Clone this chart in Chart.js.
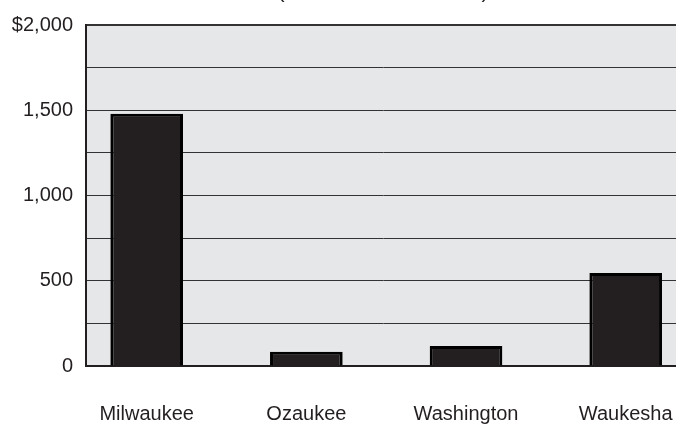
<!DOCTYPE html>
<html>
<head>
<meta charset="utf-8">
<script src="https://cdn.jsdelivr.net/npm/chart.js@4/dist/chart.umd.min.js"></script>
<style>
  html, body { margin: 0; padding: 0; background: #fff; overflow: hidden; }
  #wrap { width: 676px; height: 426px; overflow: hidden; }
  canvas { display: block; }
</style>
</head>
<body>
<div id="wrap"><canvas id="countyChart" width="680" height="426"></canvas></div>
<script>
// values (millions of dollars)
var counties = ['Milwaukee', 'Ozaukee', 'Washington', 'Waukesha'];
var amounts = [1480, 84, 117, 545];
var yTicks = [0, 500, 1000, 1500, 2000];
var titleText = '(In Millions of Dollars)';

var ink = '#231f20';

// light grey plot background + title that sits mostly above the frame
var plotBackground = {
    id: 'plotBackground',
    beforeDraw: function (chart) {
        var a = chart.chartArea;
        var ctx = chart.ctx;
        ctx.save();
        ctx.fillStyle = '#e6e7e8';
        ctx.fillRect(a.left, a.top, a.right - a.left, a.bottom - a.top);
        ctx.restore();
    },
    afterDraw: function (chart) {
        var ctx = chart.ctx;
        ctx.save();
        ctx.font = '22px "Liberation Sans", Arial, sans-serif';
        ctx.fillStyle = ink;
        ctx.textAlign = 'center';
        ctx.textBaseline = 'alphabetic';
        ctx.fillText(titleText, 383, -3);
        ctx.restore();
    }
};

var points = amounts.map(function (v, i) { return { x: i, y: v }; });

new Chart(document.getElementById('countyChart'), {
    type: 'bar',
    data: {
        datasets: [{
            data: points,
            backgroundColor: ink,
            borderColor: '#000',
            borderWidth: 3,
            categoryPercentage: 1,
            barPercentage: 0.455
        }]
    },
    options: {
        responsive: false,
        animation: false,
        layout: { padding: { top: 23, left: 10, right: 0, bottom: 0 } },
        plugins: { legend: { display: false }, tooltip: { enabled: false } },
        scales: {
            x: {
                type: 'linear',
                offset: false,
                min: -0.38,
                max: 3.34,
                afterBuildTicks: function (scale) {
                    scale.ticks = counties.map(function (c, i) { return { value: i }; });
                },
                afterFit: function (scale) {
                    scale.height = 60;
                    scale.paddingLeft = 0;
                    scale.paddingRight = 0;
                },
                grid: { display: false, drawTicks: false },
                border: { display: true, color: ink, width: 2 },
                ticks: {
                    padding: 36,
                    color: ink,
                    maxRotation: 0,
                    autoSkip: false,
                    font: { family: '"Liberation Sans", Arial, sans-serif', size: 20 },
                    callback: function (v) { return counties[v]; }
                }
            },
            y: {
                min: 0,
                max: 2000,
                afterFit: function (scale) { scale.width = 76; },
                grid: {
                    color: '#333',
                    lineWidth: function (c) { return c.tick && c.tick.value === 2000 ? 2 : 1; },
                    drawTicks: false
                },
                border: { display: true, color: ink, width: 2 },
                ticks: {
                    stepSize: 250,
                    padding: 13,
                    color: ink,
                    font: { family: '"Liberation Sans", Arial, sans-serif', size: 20 },
                    callback: function (v) {
                        if (yTicks.indexOf(v) === -1) return '';
                        var s = v.toLocaleString('en-US');
                        return v === 2000 ? '$' + s : s;
                    }
                }
            }
        }
    },
    plugins: [plotBackground]
});
</script>
</body>
</html>
